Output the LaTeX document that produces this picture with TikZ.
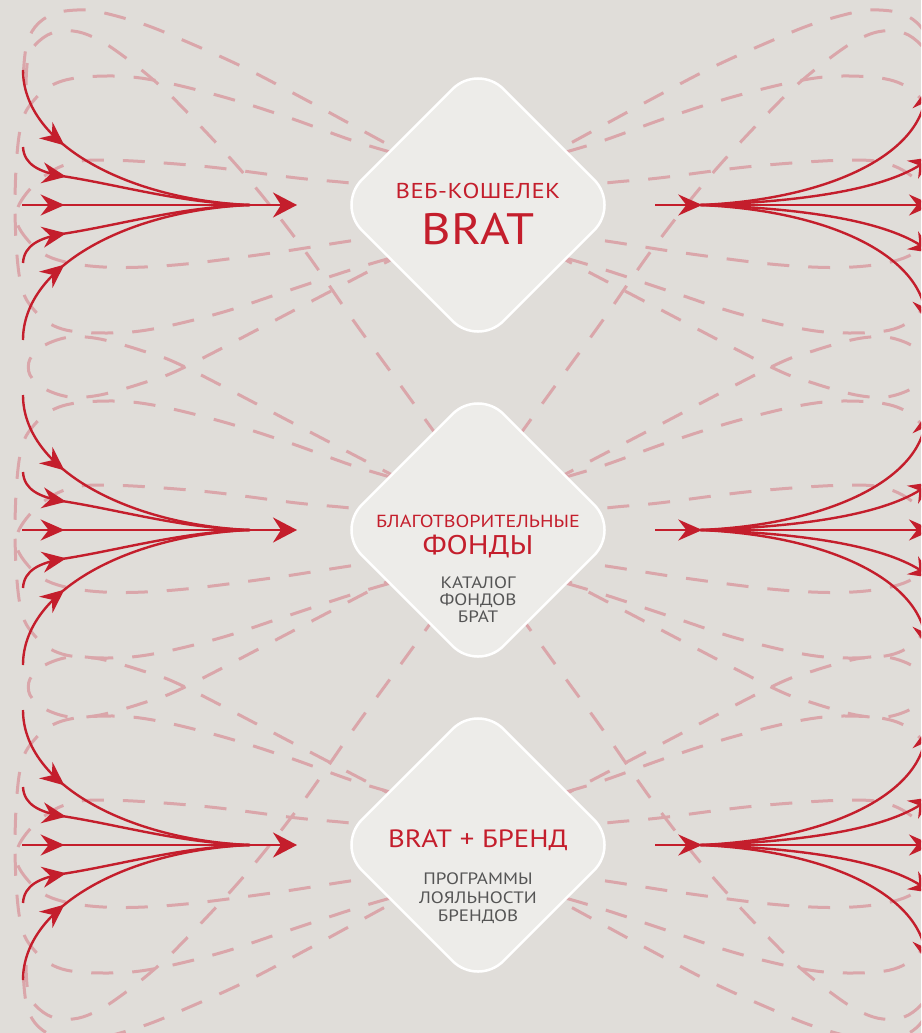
\documentclass[tikz,border=0pt]{standalone}
\usepackage{fontspec}
\setmainfont{PT Sans}[FakeStretch=1.15]
\usetikzlibrary{arrows.meta,decorations.markings}
\definecolor{bgc}{RGB}{224,221,217}
\definecolor{dfill}{RGB}{237,236,233}
\definecolor{bred}{RGB}{196,30,44}
\definecolor{dashc}{RGB}{218,166,170}
\definecolor{gtext}{RGB}{85,85,85}
\tikzset{
  dline/.style={draw=dashc, line width=3pt, dash pattern=on 22pt off 19pt},
  rline/.style={draw=bred, line width=2.4pt},
  midarrow/.style={postaction={decorate,decoration={markings,mark=at position #1 with {\arrow{Stealth[length=24pt,width=21pt,inset=8pt]}}}}},
  endhead/.style={-{Stealth[length=24pt,width=21pt,inset=8pt]}},
  diam/.style={draw=white, line width=2.5pt, fill=dfill, minimum size=200pt, rounded corners=36pt, rotate=45, inner sep=0pt},
  redtxt/.style={text=bred, inner sep=0pt, anchor=base},
  graytxt/.style={text=gtext, inner sep=0pt, anchor=base, font=\fontsize{16.5}{18}\selectfont},
}
\newcommand\leftdashes{%
  \foreach \yk in {205,530,845}{%
    \draw[dline] plot[smooth,tension=0.6] coordinates {(430,{\yk-12}) (350,{\yk-22}) (297,{\yk-27}) (200,{\yk-39}) (103,{\yk-45}) (62,{\yk-39}) (32,{\yk-18}) (16,{\yk+9}) (26,{\yk+33}) (52,{\yk+53}) (103,{\yk+62}) (175,{\yk+60}) (272,{\yk+48}) (350,{\yk+36}) (430,{\yk+25})};
    \draw[dline] plot[smooth,tension=0.6] coordinates {(430,{\yk-42}) (360,{\yk-62}) (287,{\yk-88}) (220,{\yk-109}) (153,{\yk-125}) (107,{\yk-129}) (62,{\yk-124}) (35,{\yk-106}) (20,{\yk-75}) (15,{\yk}) (20,{\yk+75}) (35,{\yk+106}) (62,{\yk+124}) (107,{\yk+128}) (153,{\yk+124}) (220,{\yk+108}) (287,{\yk+86}) (360,{\yk+62}) (430,{\yk+42})};
  }
  \foreach \ym in {367,687}{%
    \draw[dline] plot[smooth,tension=0.55] coordinates {(440,{\ym-133}) (310,{\ym-65}) (185,{\ym}) (143,{\ym+16}) (100,{\ym+28}) (70,{\ym+30}) (45,{\ym+22}) (30,{\ym+8}) (30,{\ym-8}) (45,{\ym-22}) (70,{\ym-30}) (100,{\ym-28}) (143,{\ym-16}) (185,{\ym}) (310,{\ym+65}) (440,{\ym+133})};
  }
  \topdashes
  \begin{scope}[shift={(0,1050)},yscale=-1]
    \topdashes
  \end{scope}
}
\newcommand\topdashes{%
  \draw[dline] plot[smooth,tension=0.6] coordinates {(420,162) (343,120) (308,101) (245,68) (185,41) (143,24) (100,12) (77,10) (53,14) (35,27) (26,48) (23,80)};
  \draw[dline] plot[smooth,tension=0.6] coordinates {(26,85) (28,58) (36,44) (52,33) (73,31) (93,37) (115,50) (150,77) (183,108) (245,175) (302,247) (353,320) (393,375) (440,440) (470,482)};
}
\begin{document}
\begin{tikzpicture}[x=1pt,y=-1pt]
  \useasboundingbox (0,0) rectangle (921,1033);
  \clip (0,0) rectangle (921,1033);
  \fill[bgc] (0,0) rectangle (921,1033);
  % dashed loops
  \leftdashes
  \begin{scope}[shift={(956,0)},xscale=-1]
    \leftdashes
  \end{scope}
  % red arrows
  \foreach \yk in {205,530,845}{%
    \draw[rline, midarrow=0.31] (23,{\yk-135}) .. controls (23,{\yk-60}) and (130,{\yk-5}) .. (250,\yk);
    \draw[rline, midarrow=0.235] (23,{\yk-58}) .. controls (24,{\yk-40}) and (40,{\yk-33}) .. (62,{\yk-29}) .. controls (120,{\yk-20}) and (180,{\yk-2}) .. (250,\yk);
    \draw[rline, midarrow=0.235] (23,{\yk+58}) .. controls (24,{\yk+40}) and (40,{\yk+33}) .. (62,{\yk+29}) .. controls (120,{\yk+20}) and (180,{\yk+2}) .. (250,\yk);
    \draw[rline, midarrow=0.31] (23,{\yk+135}) .. controls (23,{\yk+60}) and (130,{\yk+5}) .. (250,\yk);
    \draw[rline, midarrow=0.155, -{Stealth[length=24pt,width=25pt,inset=8pt]}] (22,\yk) -- (297,\yk);
    \draw[rline, endhead] (700,\yk) .. controls (820,{\yk-5}) and (912,{\yk-45}) .. (928,{\yk-118});
    \draw[rline, endhead] (700,\yk) .. controls (800,{\yk-3}) and (880,{\yk-15}) .. (933,{\yk-48});
    \draw[rline, endhead] (700,\yk) .. controls (800,{\yk+3}) and (880,{\yk+15}) .. (933,{\yk+48});
    \draw[rline, endhead] (700,\yk) .. controls (820,{\yk+5}) and (912,{\yk+45}) .. (928,{\yk+118});
    \draw[rline, midarrow=0.17, endhead] (655,\yk) -- (933,\yk);
  }
  % diamonds
  \node[diam] (d1) at (478,205) {};
  \node[diam] (d2) at (478,530) {};
  \node[diam] (d3) at (478,845) {};
  % texts
  \node[redtxt, font=\fontsize{21.5}{22}\selectfont\addfontfeature{LetterSpace=2}] (t1a) at (478,198) {ВЕБ-КОШЕЛЕК};
  \node[redtxt, font=\fontsize{44}{44}\selectfont] (t1b) at (478,244) {BRAT};
  \node[redtxt, font=\fontsize{17.5}{18}\selectfont] (t2a) at (478,527) {БЛАГОТВОРИТЕЛЬНЫЕ};
  \node[redtxt, font=\fontsize{27}{28}\selectfont] (t2b) at (478,554) {ФОНДЫ};
  \node[graytxt] (t2c) at (478,588) {КАТАЛОГ};
  \node[graytxt] (t2d) at (478,605) {ФОНДОВ};
  \node[graytxt] (t2e) at (478,622) {БРАТ};
  \node[redtxt, font=\fontsize{25}{26}\selectfont] (t3a) at (478,847) {BRAT + БРЕНД};
  \node[graytxt] (t3b) at (478,884) {ПРОГРАММЫ};
  \node[graytxt] (t3c) at (478,903) {ЛОЯЛЬНОСТИ};
  \node[graytxt] (t3d) at (478,921) {БРЕНДОВ};
\end{tikzpicture}
\end{document}
